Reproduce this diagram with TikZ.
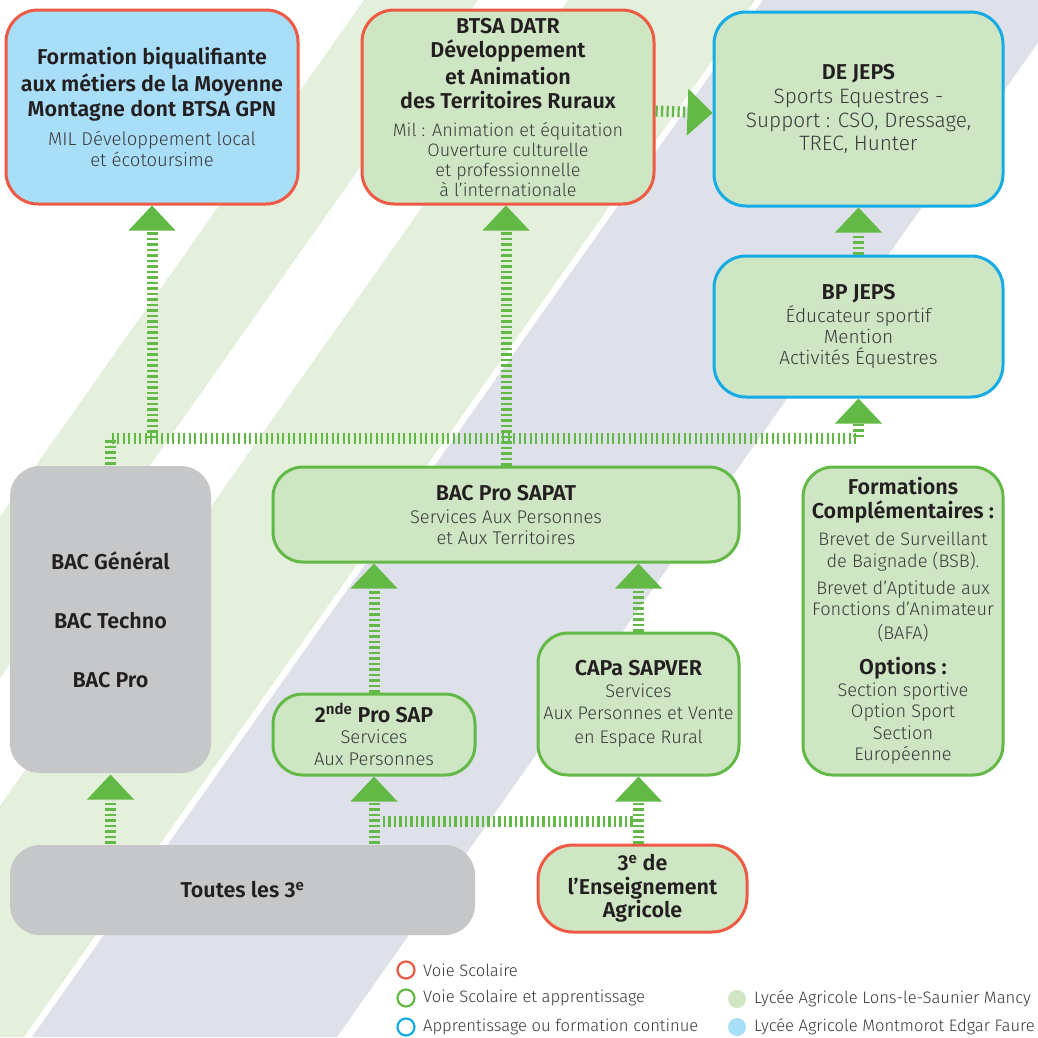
\documentclass[tikz,border=0pt]{standalone}
\usepackage{fontspec}
\IfFontExistsTF{Fira Sans Light}
  {\IfFontExistsTF{Fira Sans SemiBold}
     {\setmainfont{Fira Sans Light}[BoldFont={Fira Sans SemiBold}]}
     {\setmainfont{Fira Sans Light}[BoldFont={Fira Sans}]}}
  {\setmainfont{Fira Sans}}
\usetikzlibrary{arrows.meta}
\definecolor{cgreen}{HTML}{62B946}
\definecolor{cred}{HTML}{EE5A44}
\definecolor{cblue}{HTML}{15ACE6}
\definecolor{fillgreen}{HTML}{CFE6C4}
\definecolor{fillblue}{HTML}{A9DEF9}
\definecolor{fillgrey}{HTML}{C6C7C9}
\definecolor{bandgreen}{HTML}{E4EFDC}
\definecolor{bandgrey}{HTML}{DEE1E9}
\definecolor{textdark}{HTML}{231F20}
\definecolor{textbody}{HTML}{3A3A3A}
\newcommand\ttlb[1]{{\fontsize{21.5}{24}\selectfont\bfseries\color{textdark}#1}}
\begin{document}
\begin{tikzpicture}[x=1pt,y=-1pt,
  box/.style={rounded corners=30pt, line width=3pt, inner sep=0pt, align=center, text=textbody},
  redbox/.style={box, draw=cred},
  greenbox/.style={box, draw=cgreen},
  bluebox/.style={box, draw=cblue},
  conn/.style={draw=cgreen, line width=11pt, dash pattern=on 2.2pt off 3.3pt},
  conna/.style={conn, -{Triangle[width=47pt,length=25pt,line width=0pt]}},
  legc/.style={circle, inner sep=0pt, minimum size=17pt, line width=2.2pt},
  legt/.style={anchor=west, inner sep=0pt, text=textbody, font=\fontsize{16.6}{19}\selectfont}
]
\useasboundingbox (0,0) rectangle (1038,1037);
\fill[white] (0,0) rectangle (1038,1037);
\begin{scope}
  \clip (0,0) rectangle (1038,1037);
  \fill[bandgreen] (-367,1037) -- (-253,1037) -- (478,0) -- (364,0) -- cycle;
  \fill[bandgreen] (-163,1037) -- (24,1037) -- (755,0) -- (568,0) -- cycle;
  \fill[bandgrey] (32,1037) -- (337,1037) -- (1068,0) -- (763,0) -- cycle;
\end{scope}

% boxes
\node[redbox, fill=fillblue, minimum width=292pt, minimum height=194pt, rounded corners=32pt,
      font=\fontsize{18.5}{21}\selectfont] (A) at (152,107)
  {\ttlb{Formation biqualifiante}\\[3.5pt]
   \ttlb{aux métiers de la Moyenne}\\[3.5pt]
   \ttlb{Montagne dont BTSA GPN}\\[8pt]
   MIL Développement local\\
   et écotoursime};

\node[redbox, fill=fillgreen, minimum width=292pt, minimum height=194pt, rounded corners=32pt,
      font=\fontsize{18}{20}\selectfont] (B) at (508,107)
  {\ttlb{BTSA DATR}\\[4pt]
   \ttlb{Développement}\\[4pt]
   \ttlb{et Animation}\\[4pt]
   \ttlb{des Territoires Ruraux}\\[8pt]
   Mil : Animation et équitation\\
   Ouverture culturelle\\
   et professionnelle\\
   à l’internationale};

\node[bluebox, fill=fillgreen, minimum width=289pt, minimum height=194pt, rounded corners=32pt,
      font=\fontsize{20.8}{23.5}\selectfont] (C) at (858.5,109)
  {\ttlb{DE JEPS}\\[0.5pt]
   Sports Equestres -\\
   Support : CSO, Dressage,\\
   TREC, Hunter};

\node[bluebox, fill=fillgreen, minimum width=289pt, minimum height=141pt, rounded corners=32pt,
      font=\fontsize{19}{21}\selectfont] (D) at (858.5,326.5)
  {\ttlb{BP JEPS}\\[2pt]
   Éducateur sportif\\
   Mention\\
   Activités Équestres};

\node[box, fill=fillgrey, minimum width=201pt, minimum height=307pt,
      font=\fontsize{21.5}{59}\selectfont] (E) at (110.5,619.5)
  {\ttlb{BAC Général}\\
   \ttlb{BAC Techno}\\
   \ttlb{BAC Pro}};

\node[greenbox, fill=fillgreen, minimum width=466pt, minimum height=95pt,
      font=\fontsize{18.4}{21}\selectfont] (F) at (506,514.5)
  {\ttlb{BAC Pro SAPAT}\\[2pt]
   Services Aux Personnes\\
   et Aux Territoires};

\node[greenbox, fill=fillgreen, minimum width=200pt, minimum height=308pt,
      font=\fontsize{18.2}{21.5}\selectfont] (G) at (903,621)
  {\ttlb{Formations}\\[2.5pt]
   \ttlb{Complémentaires :}\\[5.5pt]
   Brevet de Surveillant\\
   de Baignade (BSB).\\[5.5pt]
   Brevet d’Aptitude aux\\
   Fonctions d’Animateur\\[2.5pt]
   (BAFA)\\[13.5pt]
   \ttlb{Options :}\\
   Section sportive\\
   Option Sport\\
   Section\\
   Européenne};

\node[greenbox, fill=fillgreen, minimum width=201pt, minimum height=142pt,
      font=\fontsize{18.2}{22}\selectfont] (H) at (638.5,704)
  {\ttlb{CAPa SAPVER}\\
   Services\\
   Aux Personnes et Vente\\[2pt]
   en Espace Rural};

\node[greenbox, fill=fillgreen, minimum width=202pt, minimum height=81pt,
      font=\fontsize{18.4}{21.5}\selectfont] (I) at (374,734.5)
  {\ttlb{2\textsuperscript{nde} Pro SAP}\\
   Services\\
   Aux Personnes};

\node[box, fill=fillgrey, minimum width=465pt, minimum height=90pt,
      font=\fontsize{21.5}{24}\selectfont] (J) at (242.5,890)
  {\ttlb{Toutes les 3\textsuperscript{e}}};

\node[redbox, fill=fillgreen, minimum width=209pt, minimum height=87pt, rounded corners=35pt,
      font=\fontsize{21.5}{23.5}\selectfont] (K) at (642.5,888.5)
  {\ttlb{3\textsuperscript{e} de}\\
   \ttlb{l’Enseignement}\\
   \ttlb{Agricole}};

% connectors
\coordinate (bus) at (0,438);
\coordinate (jn) at (0,821);
\draw[conna] (E.north) |- (D.south |- bus) -- (D.south);
\draw[conna] (A.south |- bus) -- (A.south);
\draw[conna] (F.north) -- (F.north |- B.south);
\draw[conna] ([yshift=-4pt]B.east) -- ([yshift=-4pt]C.west);
\draw[conna] (D.north) -- (C.south);
\draw[conna] (I.north) -- (I.north |- F.south);
\draw[conna] (H.north) -- (H.north |- F.south);
\draw[conna] (E.south |- J.north) -- (E.south);
\draw[conna] (I.south |- J.north) -- (I.south);
\draw[conna] (H.south |- K.north) -- (H.south);
\draw[conn, shorten <=6pt, shorten >=6pt] (H.south |- jn) -- (I.south |- jn);

% legend
\node[legc, draw=cred] (l1) at (406,970) {};
\node[legt] (t1) at (423,970) {Voie Scolaire};
\node[legc, draw=cgreen] (l2) at (406,998) {};
\node[legt] (t2) at (423,998) {Voie Scolaire et apprentissage};
\node[legc, draw=cblue] (l3) at (406,1027) {};
\node[legt] (t3) at (423,1027) {Apprentissage ou formation continue};
\node[legc, fill=fillgreen, minimum size=18pt] (l4) at (737,999) {};
\node[legt] (t4) at (754,999) {Lycée Agricole Lons-le-Saunier Mancy};
\node[legc, fill=fillblue, minimum size=18pt] (l5) at (737,1027) {};
\node[legt] (t5) at (754,1027) {Lycée Agricole Montmorot Edgar Faure};
\end{tikzpicture}
\end{document}
